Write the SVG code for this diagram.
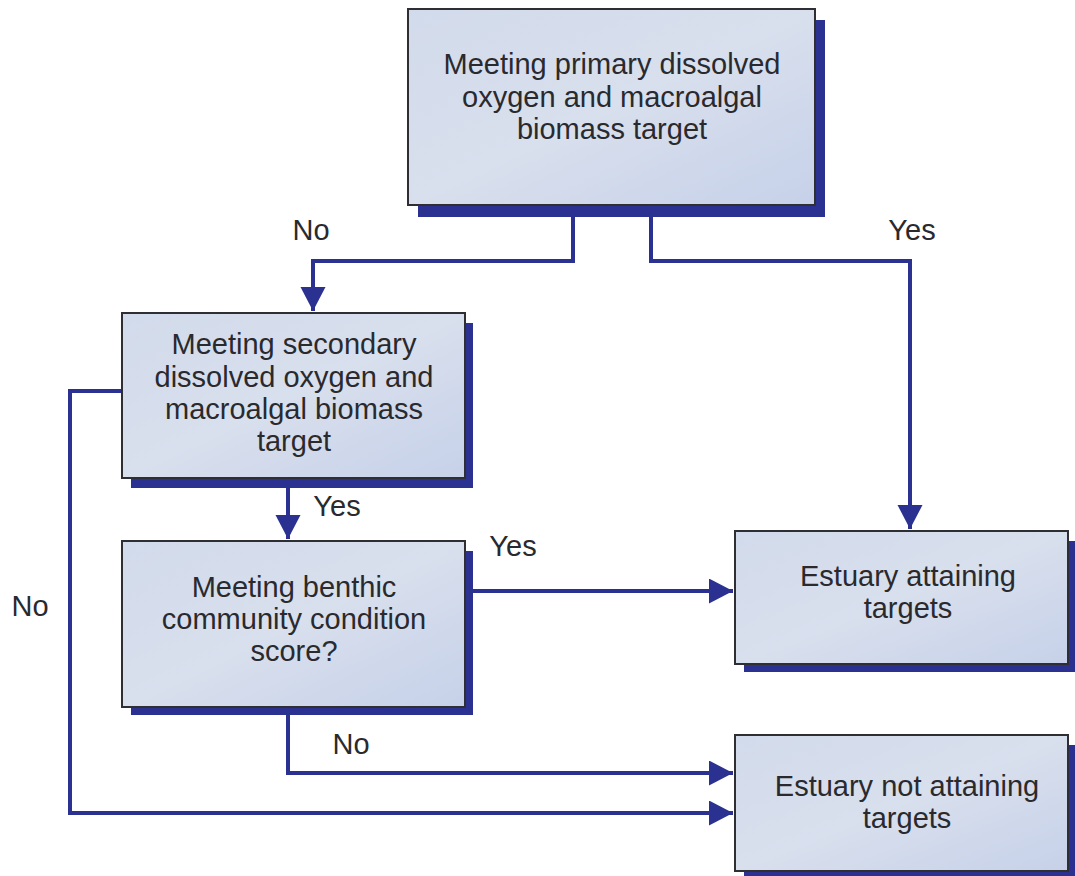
<svg xmlns="http://www.w3.org/2000/svg" width="1075" height="876" viewBox="0 0 1075 876">
<defs>
<linearGradient id="fill" x1="0" y1="0" x2="1" y2="1">
<stop offset="0" stop-color="#d2dbeb"/>
<stop offset="0.5" stop-color="#d8dfed"/>
<stop offset="1" stop-color="#c6d1e9"/>
</linearGradient>
<marker id="arr" markerUnits="userSpaceOnUse" markerWidth="26" markerHeight="26" refX="24" refY="12.5" orient="auto">
<path d="M0,0 L24,12.5 L0,25 z" fill="#2b3191"/>
</marker>
<style>
.shadow{fill:#2b3191}
.box{fill:url(#fill);stroke:#2f2f33;stroke-width:2}
.t{font-family:"Liberation Sans",Arial,sans-serif;font-size:29px;fill:#2a2a2e;text-anchor:middle}
.c{fill:none;stroke:#2b3191;stroke-width:4}
</style>
</defs>
<rect width="1075" height="876" fill="#ffffff"/>
<g id="connectors">
<path class="c" d="M573,215 V261 H313 V311" marker-end="url(#arr)"/>
<path class="c" d="M651,215 V261 H910 V529" marker-end="url(#arr)"/>
<path class="c" d="M288,488 V539" marker-end="url(#arr)"/>
<path class="c" d="M473,591 H733" marker-end="url(#arr)"/>
<path class="c" d="M288,715 V773 H733" marker-end="url(#arr)"/>
<path class="c" d="M122,391 H70 V813 H733" marker-end="url(#arr)"/>
</g>
<g id="labels">
<text class="t" x="311" y="240">No</text>
<text class="t" x="912" y="240">Yes</text>
<text class="t" x="337" y="516">Yes</text>
<text class="t" x="513" y="556">Yes</text>
<text class="t" x="30" y="616">No</text>
<text class="t" x="351" y="754">No</text>
</g>
<g id="n1">
<rect class="shadow" x="418" y="20" width="407" height="197"/>
<rect class="box" x="408" y="9" width="407" height="196"/>
<text class="t" x="612" y="74">Meeting primary dissolved</text>
<text class="t" x="612" y="107">oxygen and macroalgal</text>
<text class="t" x="612" y="139">biomass target</text>
</g>
<g id="n2">
<rect class="shadow" x="131" y="323" width="342" height="165"/>
<rect class="box" x="122" y="313" width="343" height="165"/>
<text class="t" x="294" y="354">Meeting secondary</text>
<text class="t" x="294" y="387">dissolved oxygen and</text>
<text class="t" x="294" y="419">macroalgal biomass</text>
<text class="t" x="294" y="451">target</text>
</g>
<g id="n3">
<rect class="shadow" x="131" y="551" width="342" height="164"/>
<rect class="box" x="122" y="541" width="343" height="166"/>
<text class="t" x="294" y="597">Meeting benthic</text>
<text class="t" x="294" y="629">community condition</text>
<text class="t" x="294" y="661">score?</text>
</g>
<g id="n4">
<rect class="shadow" x="744" y="541" width="331" height="131"/>
<rect class="box" x="735" y="531" width="333" height="133"/>
<text class="t" x="908" y="586">Estuary attaining</text>
<text class="t" x="908" y="618">targets</text>
</g>
<g id="n5">
<rect class="shadow" x="744" y="745" width="331" height="131"/>
<rect class="box" x="735" y="735" width="333" height="136"/>
<text class="t" x="907" y="796">Estuary not attaining</text>
<text class="t" x="907" y="828">targets</text>
</g>
</svg>
